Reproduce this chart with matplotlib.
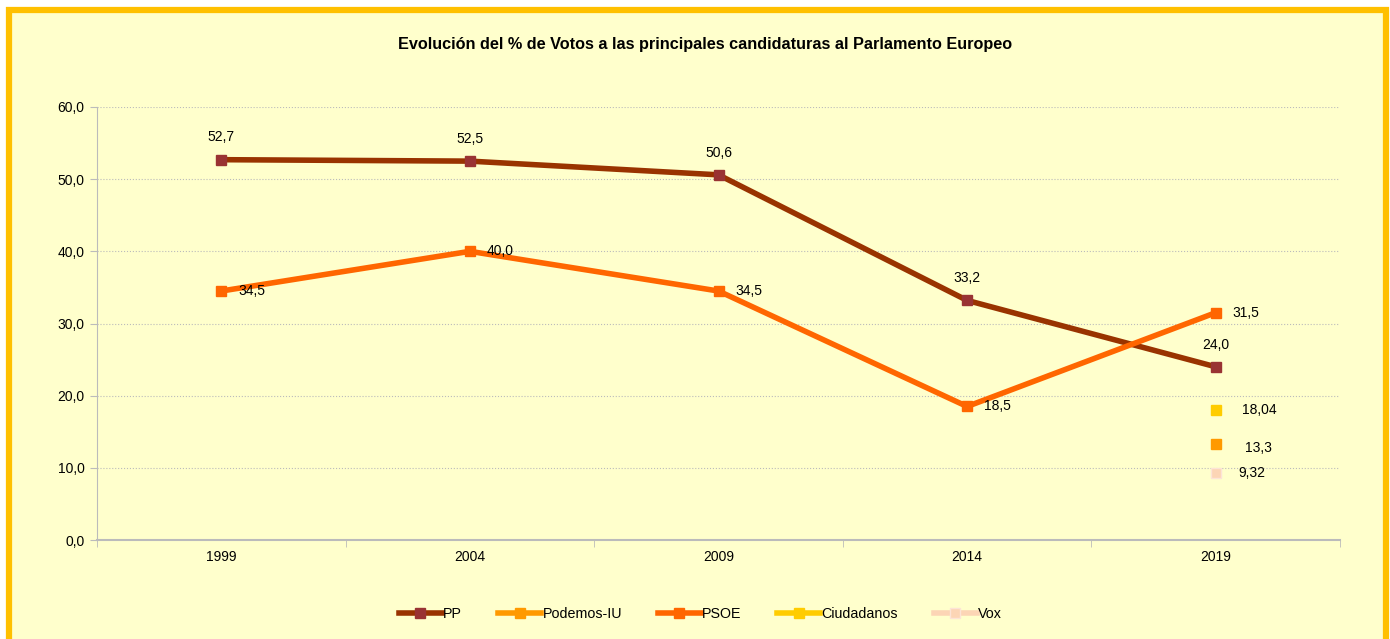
import matplotlib.pyplot as plt
import numpy as np

plt.rcParams['font.family'] = ['Liberation Sans', 'DejaVu Sans']

years = ['1999', '2004', '2009', '2014', '2019']
pp = [52.7, 52.5, 50.6, 33.2, 24.0]
podemos = [np.nan, np.nan, np.nan, np.nan, 13.3]
psoe = [34.5, 40.0, 34.5, 18.5, 31.5]
cs = [np.nan, np.nan, np.nan, np.nan, 18.04]
vox = [np.nan, np.nan, np.nan, np.nan, 9.32]

fig = plt.figure(figsize=(13.9, 6.39), dpi=100)
fig.patch.set_facecolor('white')
# orange frame round the chart area
frame = plt.Rectangle((9 / 1390, -0.05), 1377 / 1390, 1 - 10 / 639 + 0.05,
                      transform=fig.transFigure, facecolor='#FFFFCC',
                      edgecolor='#FFC000', linewidth=4.5, zorder=-10)
fig.patches.append(frame)

ax = fig.add_axes([97 / 1390, 1 - 540 / 639, 1243 / 1390, 433 / 639])
ax.set_facecolor('#FFFFCC')
x = np.arange(len(years))

ax.plot(x, pp, color='#993300', lw=4, marker='s', ms=7,
        mfc='#993333', mec='#993333', label='PP', zorder=3)
ax.plot(x, podemos, color='#FF9900', lw=4, marker='s', ms=7,
        mfc='#FF9900', mec='#FF9900', label='Podemos-IU', zorder=3)
ax.plot(x, psoe, color='#FF6600', lw=4, marker='s', ms=7,
        mfc='#FF6600', mec='#FF6600', label='PSOE', zorder=3)
ax.plot(x, cs, color='#FFCC00', lw=4, marker='s', ms=7,
        mfc='#FFCC00', mec='#FFCC00', label='Ciudadanos', zorder=3)
ax.plot(x, vox, color='#FCD5B5', lw=4, marker='s', ms=7,
        mfc='#FCD5B5', mec='#FCE4D6', label='Vox', zorder=3)

def fmt(v, d=1):
    return f'{v:.{d}f}'.replace('.', ',')

for i, v in enumerate(pp):
    ax.annotate(fmt(v), (x[i], v), xytext=(0, 11), textcoords='offset points',
                ha='center', va='bottom', fontsize=10)
for i, v in enumerate(psoe):
    ax.annotate(fmt(v), (x[i], v), xytext=(12, 0), textcoords='offset points',
                ha='left', va='center', fontsize=10)
ax.annotate(fmt(cs[4], 2), (x[4], cs[4]), xytext=(19, 0), textcoords='offset points',
            ha='left', va='center', fontsize=10)
ax.annotate(fmt(podemos[4]), (x[4], podemos[4]), xytext=(21, -3), textcoords='offset points',
            ha='left', va='center', fontsize=10)
ax.annotate(fmt(vox[4], 2), (x[4], vox[4]), xytext=(16, 0), textcoords='offset points',
            ha='left', va='center', fontsize=10)

ax.set_xlim(-0.5, 4.5)
ax.set_ylim(0, 60)
ax.set_yticks(np.arange(0, 61, 10))
ax.set_yticklabels([fmt(v) for v in np.arange(0, 61, 10)], fontsize=10)
ax.set_xticks(x)
ax.set_xticklabels(years, fontsize=10)
ax.set_xticks(np.arange(-0.5, 4.6, 1), minor=True)
ax.tick_params(axis='x', which='major', length=0, pad=7)
ax.tick_params(axis='x', which='minor', length=5, color='#BBBBBB')
ax.tick_params(axis='y', length=5, color='#BBBBBB', pad=4)
ax.grid(axis='y', color='#BBBBBB', linestyle=':', linewidth=0.8)
ax.set_axisbelow(True)
for s in ['top', 'right']:
    ax.spines[s].set_visible(False)
ax.spines['left'].set_color('#BBBBBB')
ax.spines['bottom'].set_color('#BBBBBB')
ax.spines['bottom'].set_linewidth(1.5)

fig.text(705 / 1390, 1 - 45 / 639, 'Evolución del % de Votos a las principales candidaturas al Parlamento Europeo',
         ha='center', va='center', fontsize=11.7, fontweight='bold')

fig.legend(loc='center', bbox_to_anchor=(0.504, 1 - 614 / 639), ncol=5, frameon=False,
           fontsize=10.3, handlelength=3, handletextpad=0.1, columnspacing=2.5)

plt.savefig('out.png', dpi=100, facecolor=fig.get_facecolor())
